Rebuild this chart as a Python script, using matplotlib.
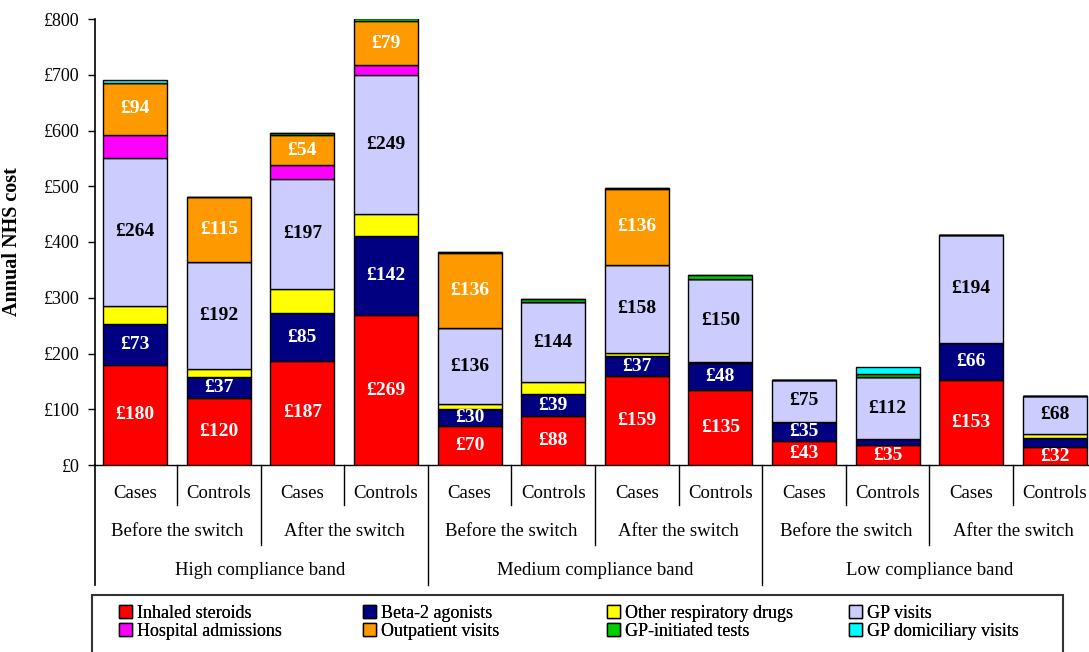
import matplotlib
matplotlib.use("Agg")
import matplotlib.pyplot as plt
import numpy as np
from matplotlib.patches import Rectangle, Patch

plt.rcParams['font.family'] = ['Liberation Serif', 'DejaVu Serif']

# ---------------- data ----------------
groups = ["Cases", "Controls"] * 6
periods = ["Before the switch", "After the switch"] * 3
bands = ["High compliance band", "Medium compliance band", "Low compliance band"]

inhaled_steroids = [180, 120, 187, 269, 70, 88, 159, 135, 43, 35, 153, 32]
beta2_agonists = [73, 37, 85, 142, 30, 39, 37, 48, 35, 11, 66, 17]
other_resp_drugs = [33, 16, 44, 40, 9, 21, 5, 1, 0, 0, 0, 7]
gp_visits = [264, 192, 197, 249, 136, 144, 158, 150, 75, 112, 194, 68]
hospital_admissions = [42, 0, 25, 17, 0, 0, 0, 0, 0, 0, 0, 0]
outpatient_visits = [94, 115, 54, 79, 136, 0, 136, 0, 0, 0, 0, 0]
gp_tests = [0, 0, 3, 5, 1, 6, 1, 7, 0, 6, 0, 0]
gp_domiciliary = [4, 0, 0, 0, 0, 0, 0, 0, 0, 11, 0, 0]

y_ticks = [0, 100, 200, 300, 400, 500, 600, 700, 800]

series = [
    ("Inhaled steroids", inhaled_steroids, "#FF0000", "white", True),
    ("Beta-2 agonists", beta2_agonists, "#000080", "white", True),
    ("Other respiratory drugs", other_resp_drugs, "#FFFF00", None, False),
    ("GP visits", gp_visits, "#CCCCFF", "black", True),
    ("Hospital admissions", hospital_admissions, "#FF00FF", None, False),
    ("Outpatient visits", outpatient_visits, "#FF9900", "white", True),
    ("GP-initiated tests", gp_tests, "#00CC00", None, False),
    ("GP domiciliary visits", gp_domiciliary, "#00FFFF", None, False),
]

# ---------------- figure ----------------
W, H = 1089, 652
fig = plt.figure(figsize=(W / 100, H / 100), dpi=100)
ax = fig.add_axes([95 / W, 187 / H, (W - 95) / W, 446 / H])

x = np.arange(len(groups))
bottom = np.zeros(len(groups))
handles = []
for name, vals, color, tcol, labelled in series:
    vals = np.array(vals, dtype=float)
    ax.bar(x, vals, 0.766, bottom=bottom, color=color,
           edgecolor="black", linewidth=1.0, zorder=3)
    if labelled:
        for xi, b, v in zip(x, bottom, vals):
            if v >= 20:
                ax.text(xi, b + v / 2, f"£{int(v)}", ha="center", va="center",
                        color=tcol, fontsize=14, fontweight="bold", zorder=4)
    bottom = bottom + vals
    handles.append(Patch(facecolor=color, edgecolor="black", linewidth=1.0, label=name))

ax.set_xlim(-0.48, 11.41)
ax.set_ylim(0, 800)
ax.set_yticks(y_ticks)
ax.set_yticklabels([f"£{v}" for v in y_ticks], fontsize=13)
ax.tick_params(axis="y", direction="out", length=5, width=1, pad=6)
ax.set_xticks([])
for s in ["top", "right"]:
    ax.spines[s].set_visible(False)
ax.spines["left"].set_linewidth(1.2)
ax.spines["bottom"].set_linewidth(1.0)
ax.set_ylabel("Annual NHS cost", fontsize=14.5, fontweight="bold")
ax.yaxis.set_label_coords(-0.0734, 0.5)

# ---------------- multi-level category axis ----------------
tr = ax.get_xaxis_transform()
lv1, lv2, lv3 = -0.0897, -0.179, -0.269
for i in range(len(groups) - 1):
    bx = i + 0.5
    if (i + 1) % 4 == 0:
        ylow = lv3
    elif (i + 1) % 2 == 0:
        ylow = lv2
    else:
        ylow = lv1
    ax.plot([bx, bx], [0, ylow], color="black", lw=1.0, transform=tr, clip_on=False)
ax.plot([-0.48, -0.48], [0, lv3], color="black", lw=1.2, transform=tr, clip_on=False)

for xi, g in zip(x, groups):
    ax.text(xi, -0.063, g, ha="center", va="center", fontsize=13.5, transform=tr)
for k, p in enumerate(periods):
    ax.text(x[2 * k:2 * k + 2].mean(), -0.15, p, ha="center", va="center",
            fontsize=13.5, transform=tr)
for k, b in enumerate(bands):
    ax.text(x[4 * k:4 * k + 4].mean(), -0.237, b, ha="center", va="center",
            fontsize=13.5, transform=tr)

# ---------------- legend ----------------
fig.add_artist(Rectangle((92 / W, -0.02), (1063 - 92) / W, (652 - 595) / H + 0.02,
                         transform=fig.transFigure, facecolor="none",
                         edgecolor="#333333", linewidth=1.5))
col_x = [119, 363, 607, 849]
for c in range(4):
    hs = [handles[c], handles[c + 4]]
    leg = fig.legend(handles=hs, loc="upper left",
                     bbox_to_anchor=(col_x[c] / W, (652 - 605) / H),
                     frameon=False, fontsize=13, handlelength=0.72,
                     handleheight=0.72, handletextpad=0.28, labelspacing=0.06,
                     borderpad=0, borderaxespad=0)
    fig.add_artist(leg)

fig.savefig("out.png", dpi=100)
